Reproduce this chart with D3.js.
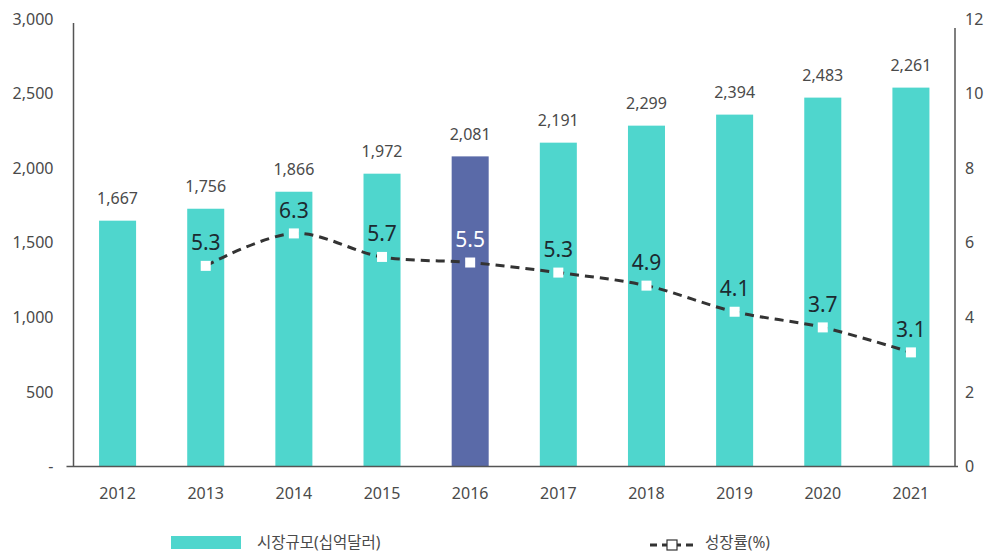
<!DOCTYPE html>
<html>
<head>
<meta charset="utf-8">
<script src="https://cdn.jsdelivr.net/npm/d3@7"></script>
<style>
  body { margin: 0; background: #fff; }
  text { font-family: "Noto Sans", "Noto Sans CJK KR", sans-serif; }
</style>
</head>
<body>
<div id="chart"></div>
<script>
const years = ["2012", "2013", "2014", "2015", "2016", "2017", "2018", "2019", "2020", "2021"];
// bar heights as drawn in the picture
const marketSize = [1648, 1728, 1842, 1963, 2079, 2171, 2285, 2359, 2473, 2540];
// value labels printed above the bars
const marketLabels = ["1,667", "1,756", "1,866", "1,972", "2,081", "2,191", "2,299", "2,394", "2,483", "2,261"];
const growthYears = ["2013", "2014", "2015", "2016", "2017", "2018", "2019", "2020", "2021"];
const growth = [5.38, 6.25, 5.62, 5.47, 5.2, 4.85, 4.15, 3.73, 3.06];
const growthLabels = ["5.3", "6.3", "5.7", "5.5", "5.3", "4.9", "4.1", "3.7", "3.1"];
const leftTicks = [0, 500, 1000, 1500, 2000, 2500, 3000];
const rightTicks = [0, 2, 4, 6, 8, 10, 12];
const highlightYear = "2016";

const width = 987, height = 553;
const plotLeft = 73.5, plotRight = 955, plotTop = 19, plotBottom = 466.5;

const svg = d3.select("#chart").append("svg")
    .attr("width", width)
    .attr("height", height);

const x = d3.scaleBand()
    .domain(years)
    .range([plotLeft, plotRight])
    .paddingInner(0.58)
    .paddingOuter(0.29);

const yL = d3.scaleLinear().domain([0, 3000]).range([plotBottom, plotTop]);
const yR = d3.scaleLinear().domain([0, 12]).range([plotBottom, plotTop]);

// bars
svg.selectAll("rect.bar")
    .data(years)
    .enter().append("rect")
    .attr("class", "bar")
    .attr("x", d => x(d))
    .attr("width", x.bandwidth())
    .attr("y", (d, i) => yL(marketSize[i]))
    .attr("height", (d, i) => plotBottom - yL(marketSize[i]))
    .attr("fill", d => d === highlightYear ? "#5a6aa8" : "#4fd6cd");

svg.selectAll("text.barlabel")
    .data(years)
    .enter().append("text")
    .attr("class", "barlabel")
    .attr("x", d => x(d) + x.bandwidth() / 2)
    .attr("y", (d, i) => yL(marketSize[i]) - 22)
    .attr("dy", "0.35em")
    .attr("text-anchor", "middle")
    .attr("font-size", 16)
    .attr("fill", "#4a4a4a")
    .text((d, i) => marketLabels[i]);

// left axis
const axisL = svg.append("g").attr("transform", `translate(${plotLeft},0)`);
axisL.append("line")
    .attr("y1", yL(3000) + 4).attr("y2", plotBottom)
    .attr("stroke", "#555").attr("stroke-width", 1.5);
axisL.selectAll("text")
    .data(leftTicks)
    .enter().append("text")
    .attr("x", -20)
    .attr("y", d => yL(d))
    .attr("dy", "0.35em")
    .attr("text-anchor", "end")
    .attr("font-size", 16)
    .attr("fill", "#4a4a4a")
    .text(d => d === 0 ? "-" : d3.format(",")(d));

// right axis
const axisR = svg.append("g").attr("transform", `translate(${plotRight},0)`);
axisR.append("line")
    .attr("y1", yR(12) + 9).attr("y2", plotBottom)
    .attr("stroke", "#555").attr("stroke-width", 1.5);
axisR.selectAll("text")
    .data(rightTicks)
    .enter().append("text")
    .attr("x", 10)
    .attr("y", d => yR(d))
    .attr("dy", "0.35em")
    .attr("text-anchor", "start")
    .attr("font-size", 16)
    .attr("fill", "#4a4a4a")
    .text(d => d);

// x axis
svg.append("line")
    .attr("x1", plotLeft - 7).attr("x2", plotRight + 3)
    .attr("y1", plotBottom).attr("y2", plotBottom)
    .attr("stroke", "#555").attr("stroke-width", 1.5);
svg.selectAll("text.xlabel")
    .data(years)
    .enter().append("text")
    .attr("class", "xlabel")
    .attr("x", d => x(d) + x.bandwidth() / 2)
    .attr("y", 493)
    .attr("dy", "0.35em")
    .attr("text-anchor", "middle")
    .attr("font-size", 16)
    .attr("fill", "#4a4a4a")
    .text(d => d);

// growth line
const pts = growthYears.map((d, i) => [x(d) + x.bandwidth() / 2, yR(growth[i])]);
svg.append("path")
    .attr("d", d3.line().curve(d3.curveCatmullRom.alpha(0.5))(pts))
    .attr("fill", "none")
    .attr("stroke", "#333")
    .attr("stroke-width", 3)
    .attr("stroke-dasharray", "9,6");

svg.selectAll("rect.marker")
    .data(pts)
    .enter().append("rect")
    .attr("class", "marker")
    .attr("x", d => d[0] - 5)
    .attr("y", d => d[1] - 5)
    .attr("width", 10)
    .attr("height", 10)
    .attr("fill", "#fff");

svg.selectAll("text.growthlabel")
    .data(pts)
    .enter().append("text")
    .attr("class", "growthlabel")
    .attr("x", d => d[0])
    .attr("y", d => d[1] - 23)
    .attr("dy", "0.35em")
    .attr("text-anchor", "middle")
    .attr("font-size", 21)
    .attr("fill", (d, i) => growthYears[i] === highlightYear ? "#fff" : "#1c2a30")
    .text((d, i) => growthLabels[i]);

// legend
const legend = svg.append("g");
legend.append("rect")
    .attr("x", 171).attr("y", 536)
    .attr("width", 70).attr("height", 13)
    .attr("fill", "#4fd6cd");
legend.append("text")
    .attr("x", 257).attr("y", 543)
    .attr("dy", "0.35em")
    .attr("font-size", 15.5)
    .attr("fill", "#4a4a4a")
    .text("시장규모(십억달러)");

legend.append("line")
    .attr("x1", 650).attr("x2", 695)
    .attr("y1", 545).attr("y2", 545)
    .attr("stroke", "#333")
    .attr("stroke-width", 3)
    .attr("stroke-dasharray", "7,5");
legend.append("rect")
    .attr("x", 667).attr("y", 540)
    .attr("width", 10).attr("height", 10)
    .attr("fill", "#fff")
    .attr("stroke", "#333")
    .attr("stroke-width", 1.2);
legend.append("text")
    .attr("x", 705).attr("y", 543)
    .attr("dy", "0.35em")
    .attr("font-size", 15.5)
    .attr("fill", "#4a4a4a")
    .text("성장률(%)");
</script>
</body>
</html>
